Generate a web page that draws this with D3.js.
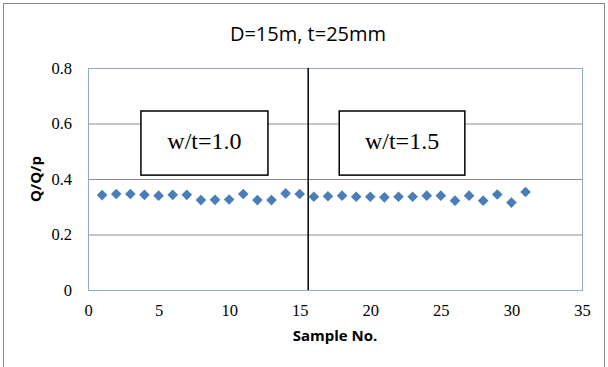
<!DOCTYPE html>
<html>
<head>
<meta charset="utf-8">
<script src="https://cdn.jsdelivr.net/npm/d3@7"></script>
<style>
  body { margin: 0; background: #fff; }
</style>
</head>
<body>
<div id="chart"></div>
<script>
// sample numbers and Q/Q/p readings
const samples = d3.range(1, 32);
const ratios = [0.342, 0.346, 0.346, 0.343, 0.340, 0.343, 0.343, 0.324, 0.325, 0.326,
  0.346, 0.324, 0.324, 0.348, 0.346, 0.336, 0.338, 0.340, 0.336, 0.336,
  0.334, 0.336, 0.336, 0.340, 0.340, 0.322, 0.340, 0.322, 0.344, 0.315, 0.353];
const xTicks = [0, 5, 10, 15, 20, 25, 30, 35];
const yTicks = [0, 0.2, 0.4, 0.6, 0.8];
const dividerX = 15.6;
const boxLabels = ['w/t=1.0', 'w/t=1.5'];
const boxX = [[3.75, 12.75], [17.8, 26.7]];
const boxY = [0.414, 0.645];

const W = 608, H = 367;
const margin = { top: 68, right: 26, bottom: 77, left: 88 };
const width = W - margin.left - margin.right;
const height = H - margin.top - margin.bottom;

const svg = d3.select('#chart').append('svg')
  .attr('width', W).attr('height', H);

// outer frame
svg.append('rect')
  .attr('x', 3.5).attr('y', 3.5).attr('width', W - 7).attr('height', H - 3)
  .attr('fill', 'none').attr('stroke', '#888');

svg.append('text')
  .attr('x', 308).attr('y', 41)
  .attr('text-anchor', 'middle')
  .style('font-family', '"Open Sans", sans-serif')
  .style('font-size', '20px')
  .text('D=15m, t=25mm');

const g = svg.append('g').attr('transform', `translate(${margin.left},${margin.top})`);

const x = d3.scaleLinear().domain([0, 35]).range([0, width]);
const y = d3.scaleLinear().domain([0, 0.8]).range([height, 0]);

// gridlines
g.selectAll('.grid').data(yTicks.filter(d => d > 0 && d < 0.8)).enter()
  .append('line')
  .attr('x1', 0).attr('x2', width)
  .attr('y1', d => y(d) + 0.5).attr('y2', d => y(d) + 0.5)
  .attr('stroke', '#8c8c8c').attr('stroke-width', 1);

// plot frame
g.append('rect')
  .attr('x', 0.5).attr('y', 0.5).attr('width', width).attr('height', height)
  .attr('fill', 'none').attr('stroke', '#8eaad0');

const xAxis = g.append('g').attr('transform', `translate(0,${height})`)
  .call(d3.axisBottom(x).tickValues(xTicks).tickSize(0).tickPadding(14).tickFormat(d3.format('d')));
const yAxis = g.append('g')
  .call(d3.axisLeft(y).tickValues(yTicks).tickSize(0).tickPadding(16).tickFormat(d => d === 0 ? '0' : d3.format('.1f')(d)));
[xAxis, yAxis].forEach(a => {
  a.attr('font-size', null).attr('font-family', null);
  a.selectAll('text')
    .style('font-family', '"Liberation Serif", serif')
    .style('font-size', '16.5px')
    .attr('fill', '#000');
});
xAxis.select('.domain').remove();
yAxis.select('.domain').remove();

// divider line
g.append('line')
  .attr('x1', x(dividerX)).attr('x2', x(dividerX))
  .attr('y1', 0).attr('y2', height)
  .attr('stroke', '#000').attr('stroke-width', 1.5);

// annotation boxes
boxLabels.forEach((lab, i) => {
  g.append('rect')
    .attr('x', x(boxX[i][0])).attr('y', y(boxY[1]))
    .attr('width', x(boxX[i][1]) - x(boxX[i][0]))
    .attr('height', y(boxY[0]) - y(boxY[1]))
    .attr('fill', '#fff').attr('stroke', '#000').attr('stroke-width', 1.5);
  g.append('text')
    .attr('x', (x(boxX[i][0]) + x(boxX[i][1])) / 2)
    .attr('y', (y(boxY[0]) + y(boxY[1])) / 2 + 6)
    .attr('text-anchor', 'middle')
    .style('font-family', '"Liberation Serif", serif')
    .style('font-size', '24px')
    .text(lab);
});

// markers
const diamond = d3.symbol().type(d3.symbolDiamond2).size(72);
g.selectAll('.pt').data(samples).enter()
  .append('path')
  .attr('d', diamond)
  .attr('transform', (d, i) => `translate(${x(d)},${y(ratios[i])})`)
  .attr('fill', '#4a7ebb');

// axis titles
svg.append('text')
  .attr('x', margin.left + width / 2).attr('y', 341)
  .attr('text-anchor', 'middle')
  .style('font-family', '"Open Sans", sans-serif')
  .style('font-size', '15px').style('font-weight', 'bold')
  .text('Sample No.');

svg.append('text')
  .attr('transform', `translate(41,${margin.top + height / 2}) rotate(-90)`)
  .attr('text-anchor', 'middle')
  .style('font-family', '"Open Sans", sans-serif')
  .style('font-size', '15px').style('font-weight', 'bold')
  .text('Q/Q/p');
</script>
</body>
</html>
